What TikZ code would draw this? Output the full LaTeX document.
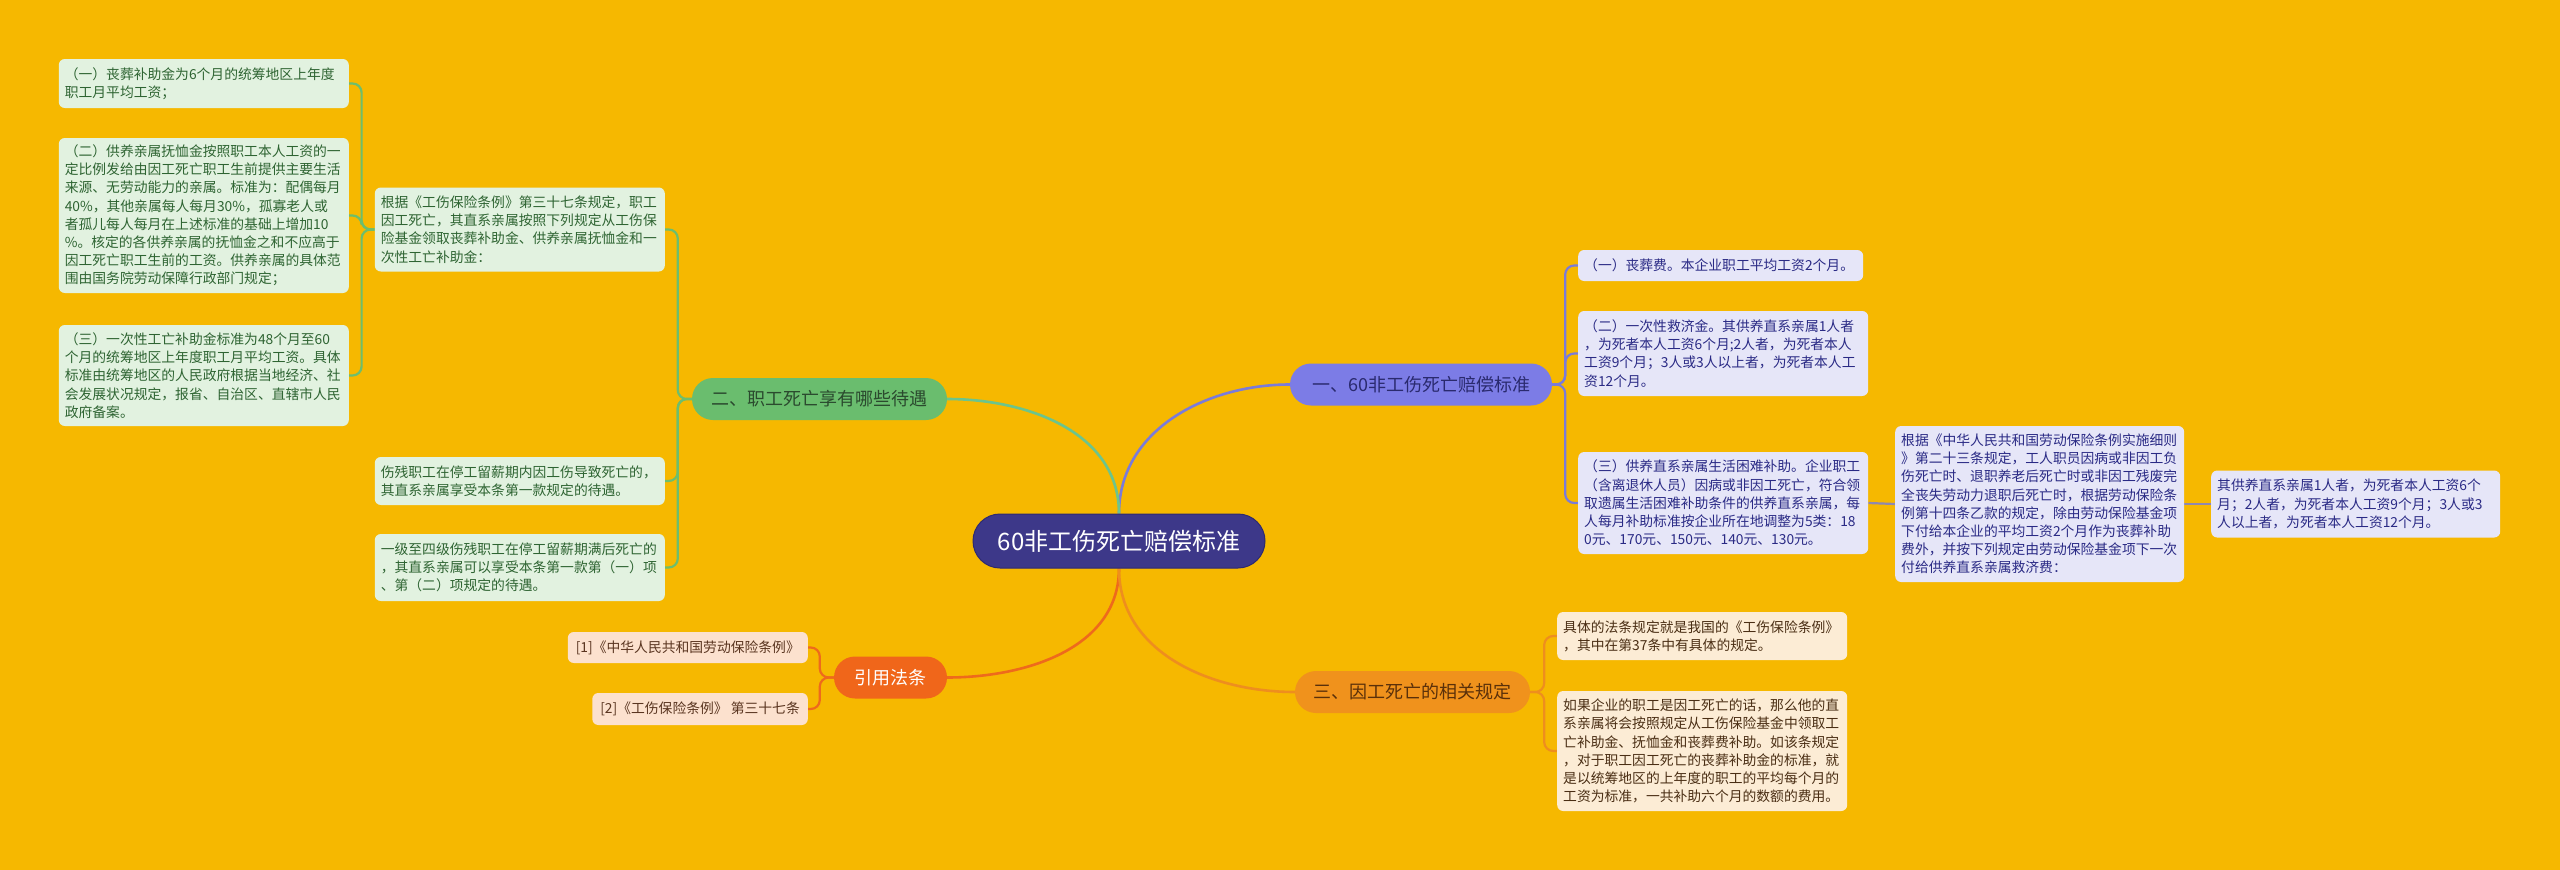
\documentclass[tikz,border=0pt]{standalone}
\usepackage{fontspec}
\newfontfamily\cjk{Noto Sans CJK SC}
\pgfdeclarelayer{bg}
\pgfdeclarelayer{background}
\pgfsetlayers{bg,background,main}
\definecolor{bgcol}{HTML}{F6B800}
\definecolor{cfill}{HTML}{3D3889}
\definecolor{cdraw}{HTML}{2E2A70}
\definecolor{bPfill}{HTML}{7C7CE6}
\definecolor{bPtext}{HTML}{2A2A6E}
\definecolor{bGfill}{HTML}{6ABD6E}
\definecolor{bGtext}{HTML}{2B4A2E}
\definecolor{bRfill}{HTML}{F0661A}
\definecolor{bOfill}{HTML}{F0921C}
\definecolor{bOtext}{HTML}{5A300A}
\definecolor{lGfill}{HTML}{E2F2E0}
\definecolor{lGtext}{HTML}{2E6432}
\definecolor{lPfill}{HTML}{E6E6F8}
\definecolor{lPtext}{HTML}{2A2A85}
\definecolor{lRfill}{HTML}{FCE1CE}
\definecolor{lRtext}{HTML}{5A3520}
\definecolor{lOfill}{HTML}{FCECD5}
\definecolor{lOtext}{HTML}{4A2E14}
\definecolor{lineP}{HTML}{7B7BD9}
\definecolor{lineP2}{HTML}{8F88B0}
\definecolor{lineG}{HTML}{6DBE6D}
\definecolor{lineGm}{HTML}{6CC48C}
\definecolor{lineR}{HTML}{EE6A1C}
\definecolor{lineO}{HTML}{EE8E1E}
\newcommand{\leaffont}{\cjk\fontsize{13.8}{18.2}\selectfont}
\newcommand{\branchfont}{\cjk\fontsize{18}{22}\selectfont}
\newcommand{\centfont}{\cjk\fontsize{24}{28}\selectfont}
\tikzset{
  leafbox/.style={rounded corners=6pt, inner xsep=6pt, inner ysep=3pt, align=left,
    text width=278pt, font=\leaffont},
  leafG/.style={leafbox, fill=lGfill, text=lGtext},
  leafP/.style={leafbox, fill=lPfill, text=lPtext},
  leafO/.style={leafbox, fill=lOfill, text=lOtext},
  citebox/.style={rounded corners=6pt, inner xsep=8pt, inner ysep=3pt, fill=lRfill, text=lRtext, font=\leaffont},
  branchbox/.style={rounded corners=21pt, inner xsep=10pt, inner ysep=3pt, font=\branchfont, minimum height=42pt},
  mainline/.style={line width=2.6pt},
  brline/.style={line width=2.2pt, rounded corners=9pt},
}
\begin{document}
\begin{tikzpicture}[x=1pt,y=-1pt]
\useasboundingbox (0,0) rectangle (2560,870);
\begin{pgfonlayer}{bg}
\fill[bgcol] (0,0) rectangle (2560,870);
\end{pgfonlayer}

% central node
\node[fill=cfill, draw=cdraw, line width=1pt, rounded corners=27pt, minimum width=292pt, minimum height=54pt, text=white, font=\centfont] (C) at (1119,541) {60非工伤死亡赔偿标准};

% branch nodes
\node[branchbox, fill=bPfill, text=bPtext, minimum width=262pt] (B1) at (1421,384.5) {一、60非工伤死亡赔偿标准};
\node[branchbox, fill=bGfill, text=bGtext, minimum width=255pt] (B2) at (819.5,399) {二、职工死亡享有哪些待遇};
\node[branchbox, fill=bRfill, text=white, minimum width=113pt] (B3) at (890.5,677.5) {引用法条};
\node[branchbox, fill=bOfill, text=bOtext, minimum width=235pt] (B4) at (1412.5,692) {三、因工死亡的相关规定};

% left green leaves
\node[leafG, anchor=east, minimum height=84pt] (L1) at (665,229.5) {根据《工伤保险条例》第三十七条规定，职工\\因工死亡，其直系亲属按照下列规定从工伤保\\险基金领取丧葬补助金、供养亲属抚恤金和一\\次性工亡补助金：};
\node[leafG, anchor=east, minimum height=48pt] (L2) at (665,481) {伤残职工在停工留薪期内因工伤导致死亡的，\\其直系亲属享受本条第一款规定的待遇。};
\node[leafG, anchor=east, minimum height=67pt] (L3) at (665,567.5) {一级至四级伤残职工在停工留薪期满后死亡的\\，其直系亲属可以享受本条第一款第（一）项\\、第（二）项规定的待遇。};
\node[leafG, anchor=east, minimum height=49pt] (L1a) at (349,83.5) {（一）丧葬补助金为6个月的统筹地区上年度\\职工月平均工资；};
\node[leafG, anchor=east, minimum height=155pt] (L1b) at (349,215.5) {（二）供养亲属抚恤金按照职工本人工资的一\\定比例发给由因工死亡职工生前提供主要生活\\来源、无劳动能力的亲属。标准为：配偶每月\\40\%，其他亲属每人每月30\%，孤寡老人或\\者孤儿每人每月在上述标准的基础上增加10\\\%。核定的各供养亲属的抚恤金之和不应高于\\因工死亡职工生前的工资。供养亲属的具体范\\围由国务院劳动保障行政部门规定；};
\node[leafG, anchor=east, minimum height=101pt] (L1c) at (349,375.5) {（三）一次性工亡补助金标准为48个月至60\\个月的统筹地区上年度职工月平均工资。具体\\标准由统筹地区的人民政府根据当地经济、社\\会发展状况规定，报省、自治区、直辖市人民\\政府备案。};

% citations
\node[citebox, anchor=east, minimum width=239pt, minimum height=31pt] (Q1) at (808,647.5) {[1]《中华人民共和国劳动保险条例》};
\node[citebox, anchor=east, minimum width=215pt, minimum height=32pt] (Q2) at (808,709) {[2]《工伤保险条例》 第三十七条};

% right purple leaves
\node[leafP, anchor=west, minimum height=31pt, text width=273pt] (R1) at (1578,265.5) {（一）丧葬费。本企业职工平均工资2个月。};
\node[leafP, anchor=west, minimum height=85pt] (R2) at (1578,353.5) {（二）一次性救济金。其供养直系亲属1人者\\，为死者本人工资6个月;2人者，为死者本人\\工资9个月；3人或3人以上者，为死者本人工\\资12个月。};
\node[leafP, anchor=west, minimum height=102pt] (R3) at (1578,503) {（三）供养直系亲属生活困难补助。企业职工\\（含离退休人员）因病或非因工死亡，符合领\\取遗属生活困难补助条件的供养直系亲属，每\\人每月补助标准按企业所在地调整为5类：18\\0元、170元、150元、140元、130元。};
\node[leafP, anchor=west, minimum height=156pt, text width=277pt] (R3a) at (1895,504) {根据《中华人民共和国劳动保险条例实施细则\\》第二十三条规定，工人职员因病或非因工负\\伤死亡时、退职养老后死亡时或非因工残废完\\全丧失劳动力退职后死亡时，根据劳动保险条\\例第十四条乙款的规定，除由劳动保险基金项\\下付给本企业的平均工资2个月作为丧葬补助\\费外，并按下列规定由劳动保险基金项下一次\\付给供养直系亲属救济费：};
\node[leafP, anchor=west, minimum height=67pt, text width=277pt] (R3b) at (2211,504) {其供养直系亲属1人者，为死者本人工资6个\\月；2人者，为死者本人工资9个月；3人或3\\人以上者，为死者本人工资12个月。};

% orange leaves
\node[leafO, anchor=west, minimum height=48pt] (O1) at (1557,636) {具体的法条规定就是我国的《工伤保险条例》\\，其中在第37条中有具体的规定。};
\node[leafO, anchor=west, minimum height=120pt] (O2) at (1557,751) {如果企业的职工是因工死亡的话，那么他的直\\系亲属将会按照规定从工伤保险基金中领取工\\亡补助金、抚恤金和丧葬费补助。如该条规定\\，对于职工因工死亡的丧葬补助金的标准，就\\是以统筹地区的上年度的职工的平均每个月的\\工资为标准，一共补助六个月的数额的费用。};

\begin{pgfonlayer}{background}
% main connectors
\draw[mainline, lineP] (C.north) to[out=90,in=180] (B1.west);
\draw[mainline, lineGm] (C.north) to[out=90,in=0] (B2.east);
\draw[mainline, lineR] (C.south) to[out=-90,in=0] (B3.east);
\draw[mainline, lineO] (C.south) to[out=-90,in=180] (B4.west);
% green brackets
\foreach \n in {L1,L2,L3} \draw[brline, lineG] (B2.west) -- ++(-14pt,0) |- (\n.east);
\foreach \n in {L1a,L1b,L1c} \draw[brline, lineG] (L1.west) -- ++(-13pt,0) |- (\n.east);
% citations
\foreach \n in {Q1,Q2} \draw[brline, lineR] (B3.west) -- ++(-14pt,0) |- (\n.east);
% purple
\foreach \n in {R1,R2,R3} \draw[brline, lineP] (B1.east) -- ++(13pt,0) |- (\n.west);
\draw[line width=2.2pt, lineP2] (R3.east) -- (R3a.west);
\draw[line width=2.2pt, lineP2] (R3a.east) -- (R3b.west);
% orange
\foreach \n in {O1,O2} \draw[brline, lineO] (B4.east) -- ++(14pt,0) |- (\n.west);
\end{pgfonlayer}
\end{tikzpicture}
\end{document}
